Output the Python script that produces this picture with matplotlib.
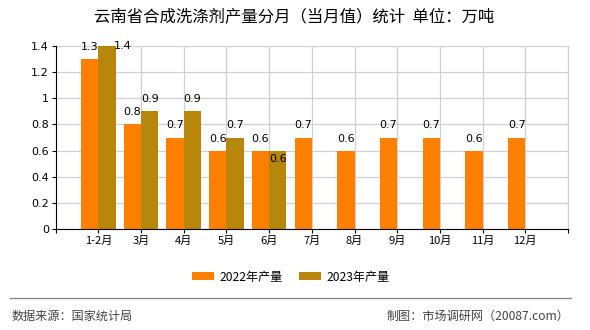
import matplotlib
matplotlib.use("Agg")
import matplotlib.pyplot as plt
import numpy as np

plt.rcParams['font.family'] = ['Noto Sans CJK SC', 'DejaVu Sans']

categories = ["1-2月", "3月", "4月", "5月", "6月", "7月", "8月", "9月", "10月", "11月", "12月"]
s2022 = [1.3, 0.8, 0.7, 0.6, 0.6, 0.7, 0.6, 0.7, 0.7, 0.6, 0.7]
s2023 = [1.4, 0.9, 0.9, 0.7, 0.6]
yticks = [0, 0.2, 0.4, 0.6, 0.8, 1.0, 1.2, 1.4]
ytick_labels = ["0", "0.2", "0.4", "0.6", "0.8", "1", "1.2", "1.4"]

c22 = "#FF8000"
c23 = "#B8860B"

fig = plt.figure(figsize=(5.9, 3.3), dpi=100)
W, H = 590, 330
ax = fig.add_axes([55.7 / W, 1 - 229 / H, (568 - 55.7) / W, (229 - 46) / H])

x = np.arange(len(categories))
bw = 0.405
ax.bar(x[:len(s2022)] - bw / 2, s2022, width=bw, color=c22, label="2022年产量", zorder=3)
ax.bar(x[:len(s2023)] + bw / 2, s2023, width=bw, color=c23, label="2023年产量", zorder=3)

ax.set_xlim(-1, len(categories))
ax.set_ylim(0, 1.4)

ax.set_yticks(yticks)
ax.set_yticklabels(ytick_labels, fontsize=8, family=['DejaVu Sans'])
ax.set_xticks(list(x) + [-1, len(categories)])
ax.set_xticklabels(categories + ["", ""], fontsize=8)
ax.tick_params(axis='both', length=3, color='black', pad=2)

ax.grid(True, color='#d0d0d0', linewidth=0.9, zorder=0)
for s in ['top', 'right']:
    ax.spines[s].set_color('#d0d0d0')
for s in ['left', 'bottom']:
    ax.spines[s].set_color('black')
    ax.spines[s].set_zorder(4)

lab_kw = dict(ha='center', va='center', fontsize=8, family=['DejaVu Sans'], zorder=5,
              textcoords='offset pixels')
for i, v in enumerate(s2022):
    ax.annotate(f"{v:g}", (x[i] - bw / 2, v), xytext=(0, 12), **lab_kw)
offsets23 = {0: (16, 0), 4: (0, -8)}
for i, v in enumerate(s2023):
    dx, dy = offsets23.get(i, (0, 12))
    ax.annotate(f"{v:g}", (x[i] + bw / 2, v), xytext=(dx, dy), **lab_kw)

fig.text(294 / W, 1 - 17 / H, "云南省合成洗涤剂产量分月（当月值）统计  单位：万吨", ha='center', va='center', fontsize=11.8)

leg = fig.legend(loc='center', bbox_to_anchor=(291 / W, 1 - 277 / H), ncol=2, frameon=False,
                 fontsize=8.7, handlelength=1.79, handleheight=0.64, columnspacing=1.32, handletextpad=0.5,
                 borderaxespad=0, borderpad=0)

fig.add_artist(plt.Line2D([10.3 / W, 571 / W], [1 - 298.3 / H, 1 - 298.3 / H], color='#888888', linewidth=1))
fig.text(11.7 / W, 1 - 316 / H, "数据来源：国家统计局", ha='left', va='center', fontsize=8.7, color='#444444')
fig.text(569.3 / W, 1 - 316 / H, "制图：市场调研网（20087.com）", ha='right', va='center', fontsize=8.7, color='#444444')

fig.savefig("out.png", dpi=100)
